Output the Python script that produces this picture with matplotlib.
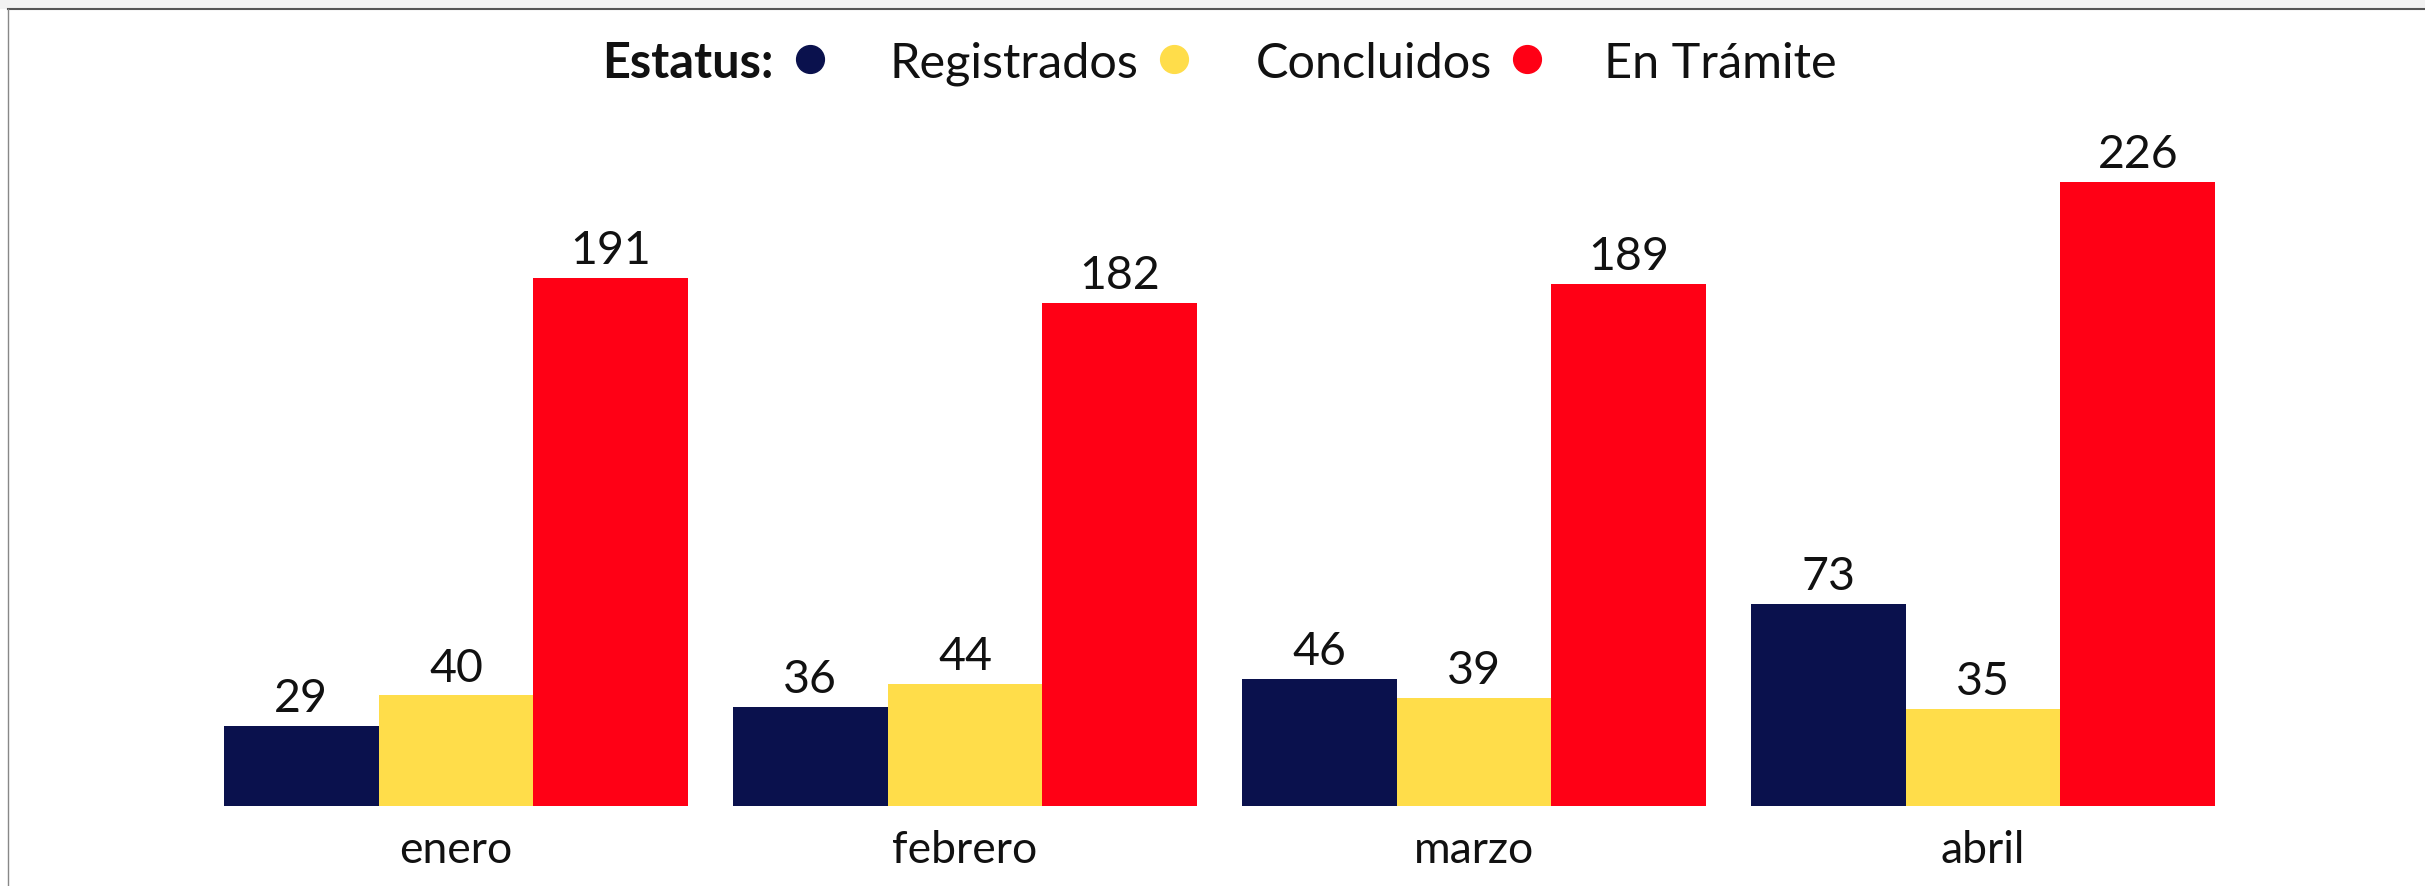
import matplotlib
matplotlib.use("Agg")
import matplotlib.pyplot as plt
from matplotlib.lines import Line2D
from matplotlib.patches import Rectangle
import numpy as np

meses = ["enero", "febrero", "marzo", "abril"]
registrados = [29, 36, 46, 73]
concluidos = [40, 44, 39, 35]
en_tramite = [191, 182, 189, 226]

series = ["Registrados", "Concluidos", "En Trámite"]
colores = ["#0A114D", "#FFDD4A", "#FF0015"]

plt.rcParams["font.family"] = ["Lato", "DejaVu Sans"]

W, H = 2425, 887
fig = plt.figure(figsize=(W / 100, H / 100), dpi=100)
ax = fig.add_axes([0, 80 / H, 1, 807 / H])

x = np.arange(len(meses))
ancho = 0.304
for i, (vals, nombre, col) in enumerate(zip([registrados, concluidos, en_tramite], series, colores)):
    barras = ax.bar(x + (i - 1) * ancho, vals, ancho, color=col, label=nombre)
    ax.bar_label(barras, padding=5, fontsize=33.5, color="#111111")

ax.set_xlim(-456 / 509, (W - 456) / 509)
ax.set_ylim(0, 807 / 2.763)
ax.set_xticks(x)
ax.set_xticklabels(meses, fontsize=32, color="#111111")
ax.tick_params(axis="x", length=0, pad=16.5)
ax.set_yticks([])
for s in ax.spines.values():
    s.set_visible(False)

# leyenda en una sola linea (posiciones en pixeles de la figura)
y_base = 1 - 78 / H
y_punto = 1 - 60 / H
fig.text(774 / W, y_base, "Estatus:", fontsize=35, fontweight="bold",
         ha="right", va="baseline", color="#111111")
x_puntos = [810, 1174, 1527]
x_textos = [890, 1256, 1604]
for nombre, col, xp, xt in zip(series, colores, x_puntos, x_textos):
    fig.add_artist(Line2D([xp / W], [y_punto], marker="o", markersize=20, color=col,
                          linestyle="none", transform=fig.transFigure))
    fig.text(xt / W, y_base, nombre, fontsize=35, ha="left", va="baseline", color="#111111")

# marco
fig.add_artist(Rectangle((0, 1 - 10 / H), 1, 10 / H, transform=fig.transFigure,
                         facecolor="#F2F2F2", edgecolor="none"))
fig.add_artist(Line2D([8 / W, 1], [1 - 10 / H, 1 - 10 / H], transform=fig.transFigure,
                      color="#555555", lw=1.5))
fig.add_artist(Line2D([8 / W, 8 / W], [0, 1 - 10 / H], transform=fig.transFigure,
                      color="#888888", lw=1.0))

fig.savefig("out.png", dpi=100)
plt.close(fig)
